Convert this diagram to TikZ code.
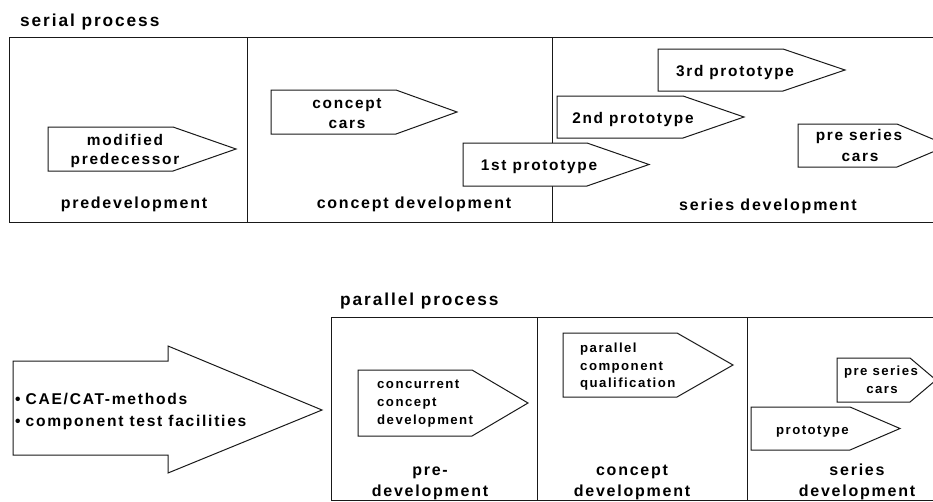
\documentclass[tikz,border=0pt]{standalone}
\usepackage{fontspec}
\setmainfont{Liberation Sans}[LetterSpace=11]
\begin{document}
\begin{tikzpicture}[x=1pt,y=-1pt,
  frame/.style={draw=black!90,line width=1pt},
  arr/.style={draw=black!90,line width=1pt,fill=white},
  title/.style={inner sep=0,anchor=base west,font=\bfseries\fontsize{17.3}{20}\selectfont},
  phase/.style={inner sep=0,anchor=base,font=\bfseries\fontsize{16}{18}\selectfont},
  big/.style={inner sep=0,anchor=base,font=\bfseries\fontsize{15.4}{18}\selectfont},
  small/.style={inner sep=0,anchor=base,font=\bfseries\fontsize{13.2}{16}\selectfont},
  smallw/.style={small,anchor=base west},
  bul/.style={inner sep=0,anchor=base west,font=\bfseries\fontsize{15.6}{18}\selectfont}]
\useasboundingbox (0,0) rectangle (933,501);
\clip (0,0) rectangle (933,501);
\fill[white] (0,0) rectangle (933,501);

% ---------- serial process ----------
\node[title] (t1) at (20,26) {serial process};
\draw[frame] (9,37) rectangle (945,222);
\draw[frame] (247,37) -- (247,222);
\draw[frame] (552,37) -- (552,222);

\draw[arr] (48,127) -- (173,127) -- (236,149) -- (173,171) -- (48,171) -- cycle;
\node[big] (mp1) at (125,145) {modified};
\node[big] (mp2) at (125,164) {predecessor};

\draw[arr] (271,90) -- (396,90) -- (457,112) -- (396,134) -- (271,134) -- cycle;
\node[big] (cc1) at (347,108) {concept};
\node[big] (cc2) at (347,128) {cars};

\draw[arr] (463,143) -- (587,143) -- (649,164.5) -- (587,186) -- (463,186) -- cycle;
\node[big] (p1) at (539,170) {1st prototype};

\draw[arr] (557,96) -- (683,96) -- (744,117) -- (683,138) -- (557,138) -- cycle;
\node[big] (p2) at (633,123) {2nd prototype};

\draw[arr] (658,49) -- (783,49) -- (845,70) -- (783,91) -- (658,91) -- cycle;
\node[big] (p3) at (735,76) {3rd prototype};

\draw[arr] (798,124) -- (897,124) -- (948,145.5) -- (897,167) -- (798,167) -- cycle;
\node[big] (ps1) at (859,140) {pre series};
\node[big] (ps2) at (860,161) {cars};

\node[phase] (ph1) at (134,208) {predevelopment};
\node[phase] (ph2) at (414,208) {concept development};
\node[phase] (ph3) at (768,210) {series development};

% ---------- methods arrow ----------
\draw[arr] (13,361) -- (168,361) -- (168,346) -- (322,410) -- (168,473) -- (168,455) -- (13,455) -- cycle;
\node[bul] (m1) at (15,404) {•\hspace{5pt}CAE/CAT-methods};
\node[bul] (m2) at (15,426) {•\hspace{5pt}component test facilities};

% ---------- parallel process ----------
\node[title] (t2) at (340,305) {parallel process};
\draw[frame] (331,317) rectangle (945,500.5);
\draw[frame] (537,317) -- (537,501);
\draw[frame] (747,317) -- (747,501);

\draw[arr] (358,370) -- (472,370) -- (528,403) -- (472,436) -- (358,436) -- cycle;
\node[smallw] (c1) at (377,388) {concurrent};
\node[smallw] (c2) at (377,406) {concept};
\node[smallw] (c3) at (377,424) {development};

\draw[arr] (563,333) -- (677,333) -- (733,365) -- (677,397) -- (563,397) -- cycle;
\node[smallw] (q1) at (580,352) {parallel};
\node[smallw] (q2) at (580,370) {component};
\node[smallw] (q3) at (580,387) {qualification};

\draw[arr] (837,358) -- (910,358) -- (936,380) -- (910,402) -- (837,402) -- cycle;
\node[small] (b1) at (881,375) {pre series};
\node[small] (b2) at (882,393) {cars};

\draw[arr] (751,407) -- (850,407) -- (900,428.5) -- (850,450) -- (751,450) -- cycle;
\node[smallw] (pr) at (776,434) {prototype};

\node[phase] (q4) at (430,475) {pre-};
\node[phase] (q5) at (430,496) {development};
\node[phase] (q6) at (632,475) {concept};
\node[phase] (q7) at (632,496) {development};
\node[phase] (q8) at (857,475) {series};
\node[phase] (q9) at (857,496) {development};
\end{tikzpicture}
\end{document}
